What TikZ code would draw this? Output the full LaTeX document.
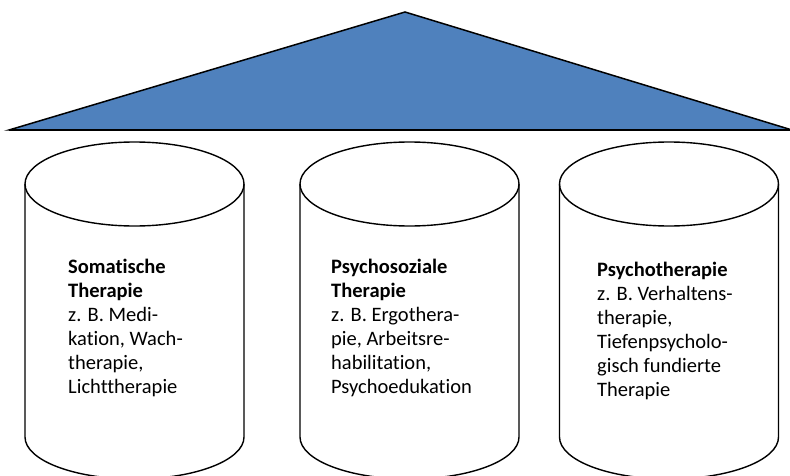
\documentclass[tikz,border=0pt]{standalone}
\usepackage{fontspec}
\setmainfont[Ligatures=NoCommon]{Carlito}
\usetikzlibrary{positioning}
\definecolor{roofblue}{HTML}{4F81BD}
\tikzset{roof/.style={draw=black,fill=roofblue,line width=1.5pt},
pillar/.style={draw=black,line width=1.4pt},
pillar text/.style={align=left,inner sep=0pt,anchor=north west,font=\fontsize{20.5}{24}\selectfont}}

\begin{document}
\begin{tikzpicture}[x=1pt,y=1pt]
    \useasboundingbox (0,0) rectangle (790,475);
    % roof
    \coordinate (apex) at (405,463);
    \coordinate (eaveL) at (9,345);
    \coordinate (eaveR) at (792,345);
    \draw[roof] (eaveL) -- (apex) -- (eaveR) -- cycle;
    \draw[line width=2.2pt] (eaveL) -- (eaveR);

    % pillars
    \foreach \cx in {134.5,409.5,669} {
        \draw[pillar] (\cx,291) ellipse [x radius=109.5, y radius=42];
        \draw[pillar] (\cx-109.5,291) -- (\cx-109.5,38) arc [start angle=180, end angle=360, x radius=109.5, y radius=42] -- (\cx+109.5,291);
    }

    \node[pillar text] (som) at (68,216) {\textbf{Somatische}\\\textbf{Therapie}\\z. B. Medi-\\kation, Wach-\\therapie,\\Lichttherapie};
    \node[pillar text] (soz) at (331,216) {\textbf{Psychosoziale}\\\textbf{Therapie}\\z. B. Ergothera-\\pie, Arbeitsre-\\habilitation,\\Psychoedukation};
    \node[pillar text] (psy) at (597,213) {\textbf{Psychotherapie}\\z. B. Verhaltens-\\therapie,\\Tiefenpsycholo-\\gisch fundierte\\Therapie};
\end{tikzpicture}
\end{document}
